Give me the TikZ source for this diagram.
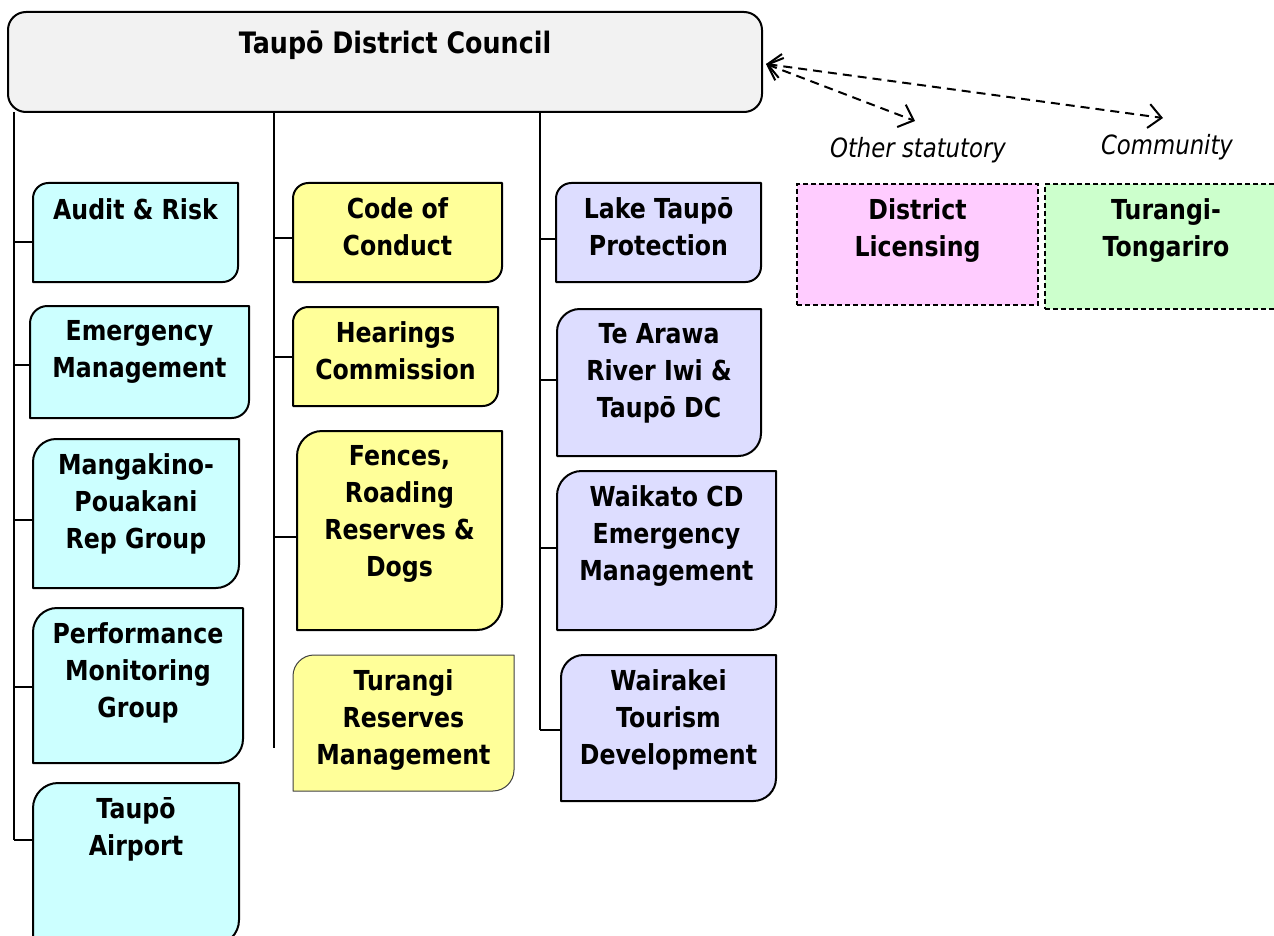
\documentclass[tikz,border=0pt]{standalone}
\usepackage{fontspec}
\setmainfont{DejaVu Sans}[FakeStretch=0.86]
\usetikzlibrary{arrows.meta}
\definecolor{cyanbox}{HTML}{CCFFFF}
\definecolor{yellowbox}{HTML}{FFFF99}
\definecolor{lavbox}{HTML}{DDDDFF}
\definecolor{pinkbox}{HTML}{FFCCFF}
\definecolor{greenbox}{HTML}{CCFFCC}
\definecolor{graybox}{HTML}{F2F2F2}
\tikzset{
  boxline/.style={draw=black,line width=2pt,line join=round},
  thinline/.style={draw=black!75,line width=1pt,line join=round},
  boxarea/.style={inner sep=0pt,draw=none,fill=none},
  boxtext/.style={font=\fontsize{27.5}{36.8}\selectfont\bfseries,align=center,anchor=north,inner sep=0pt,execute at begin node={\rule{0pt}{22pt}}},
  titletext/.style={font=\fontsize{29.5}{34}\selectfont\bfseries,anchor=base,inner sep=0pt},
  labeltext/.style={font=\fontsize{26.5}{30}\selectfont\itshape,inner sep=0pt},
  dbox/.style={draw=black,dashed,dash pattern=on 5pt off 3pt,line width=1.5pt},
  trunk/.style={draw=black,line width=2.4pt},
  dasharrow/.style={draw=black,line width=2pt,dash pattern=on 9pt off 6pt,
    {Straight Barb[length=13pt,width=24pt,line width=2pt]}-{Straight Barb[length=13pt,width=24pt,line width=2pt]}},
}
% #1 name, #2 x1, #3 y1, #4 x2, #5 y2, #6 fill, #7 line style, #8 text
\newcommand\orgbox[8]{%
  \pgfmathsetmacro\rr{min(25,0.155*(#5-#3))}%
  \pgfmathsetmacro\cc{0.45*\rr}%
  \path[#7,fill=#6] (#2,#5) -- (#2,#3+\rr) .. controls (#2,#3+\cc) and (#2+\cc,#3) .. (#2+\rr,#3) -- (#4,#3) -- (#4,#5-\rr) .. controls (#4,#5-\cc) and (#4-\cc,#5) .. (#4-\rr,#5) -- cycle;
  \node[boxarea,minimum width={(#4-#2)*1pt},minimum height={(#5-#3)*1pt}] (#1) at ({(#2+#4)/2},{(#3+#5)/2}) {};
  \node[boxtext] (#1-t) at ({(#2+#4)/2},#3+14.5) {#8};
}
\begin{document}
\begin{tikzpicture}[x=1pt,y=-1pt]
\path[use as bounding box,fill=white] (0,0) rectangle (1274,936);

% council
\node[boxline,fill=graybox,rounded corners=18pt,minimum width=754pt,minimum height=100pt,inner sep=0pt] (council) at (385,62) {};
\node[titletext] (title) at (395,54) {Taupō District Council};

% left column
\orgbox{audit}{33}{183}{238}{282}{cyanbox}{boxline}{Audit \& Risk}
\orgbox{emerg}{30}{306}{249}{418}{cyanbox}{boxline}{Emergency\\Management}
\orgbox{manga}{33}{439}{239}{588}{cyanbox}{boxline}{Mangakino-\\Pouakani\\Rep Group}
\orgbox{perf}{33}{608}{243}{763}{cyanbox}{boxline}{Performance\\Monitoring\\Group}
\orgbox{airport}{33}{783}{239}{945}{cyanbox}{boxline}{Taupō\\Airport}

% middle column
\orgbox{code}{293}{183}{502}{282}{yellowbox}{boxline}{Code of\\Conduct}
\orgbox{hear}{293}{307}{498}{406}{yellowbox}{boxline}{Hearings\\Commission}
\orgbox{fences}{297}{431}{502}{630}{yellowbox}{boxline}{Fences,\\Roading\\Reserves \&\\Dogs}
\orgbox{treserves}{293}{655}{514}{791}{yellowbox}{thinline}{Turangi\\Reserves\\Management}

% right column
\orgbox{lake}{556}{183}{761}{282}{lavbox}{boxline}{Lake Taupō\\Protection}
\orgbox{tearawa}{557}{309}{761}{456}{lavbox}{boxline}{Te Arawa\\River Iwi \&\\Taupō DC}
\orgbox{waikato}{557}{471}{776}{630}{lavbox}{boxline}{Waikato CD\\Emergency\\Management}
\orgbox{wairakei}{561}{655}{776}{801}{lavbox}{boxline}{Wairakei\\Tourism\\Development}

% dashed boxes
\node[dbox,fill=pinkbox,minimum width=241pt,minimum height=121pt,inner sep=0pt] (dl) at (917.5,244.5) {};
\node[boxtext] (dl-t) at (917.5,198.5) {District\\Licensing};
\node[dbox,fill=greenbox,minimum width=240pt,minimum height=125pt,inner sep=0pt] (tt) at (1165,246.5) {};
\node[boxtext] (tt-t) at (1166,198.5) {Turangi-\\Tongariro};

% labels
\node[labeltext] (lbl-os) at (918,150) {Other statutory};
\node[labeltext] (lbl-cm) at (1167,147) {Community};

% trunk coordinates
\coordinate (Ltop) at (14,112);
\coordinate (L1) at (14,242);
\coordinate (L2) at (14,365);
\coordinate (L3) at (14,520);
\coordinate (L4) at (14,687);
\coordinate (L5) at (14,840);
\coordinate (Mtop) at (274,112);
\coordinate (M1) at (274,238);
\coordinate (M2) at (274,357);
\coordinate (M3) at (274,537);
\coordinate (Mbot) at (274,748);
\coordinate (Rtop) at (540,112);
\coordinate (R1) at (540,239);
\coordinate (R2) at (540,380);
\coordinate (R3) at (540,548);
\coordinate (R4) at (540,730);

\draw[trunk] (Ltop) -- (L5);
\draw[trunk] (Mtop) -- (Mbot);
\draw[trunk] (Rtop) -- (R4);

\draw[trunk] (L1) -- (audit.west |- L1);
\draw[trunk] (L2) -- (emerg.west |- L2);
\draw[trunk] (L3) -- (manga.west |- L3);
\draw[trunk] (L4) -- (perf.west |- L4);
\draw[trunk] (L5) -- (airport.west |- L5);
\draw[trunk] (M1) -- (code.west |- M1);
\draw[trunk] (M2) -- (hear.west |- M2);
\draw[trunk] (M3) -- (fences.west |- M3);
\draw[trunk] (R1) -- (lake.west |- R1);
\draw[trunk] (R2) -- (tearawa.west |- R2);
\draw[trunk] (R3) -- (waikato.west |- R3);
\draw[trunk] (R4) -- (wairakei.west |- R4);

% dashed arrows
\coordinate (osend) at (915,121);
\coordinate (cmend) at (1163,118);
\draw[dasharrow] ([shift={(3pt,-2pt)}]council.east) -- (osend);
\draw[dasharrow] ([shift={(3pt,-2pt)}]council.east) -- (cmend);
\end{tikzpicture}
\end{document}
